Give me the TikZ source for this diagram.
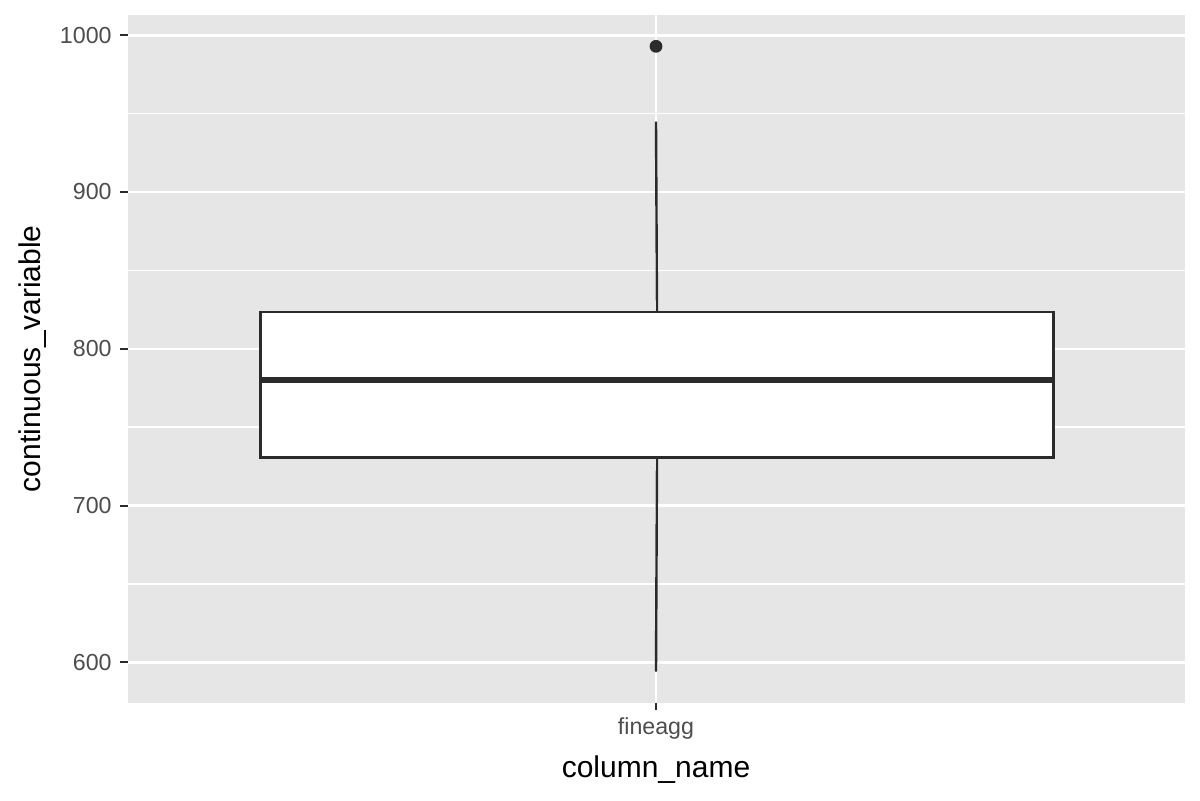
\documentclass[tikz,border=0pt]{standalone}
\usepackage{fontspec}
\setmainfont{Liberation Sans}
\definecolor{panelbg}{HTML}{E6E6E6}
\definecolor{gray20}{HTML}{2B2B2B}
\definecolor{gray30}{HTML}{4D4D4D}
\tikzset{
  major/.style={draw=white, line width=1.3pt},
  minor/.style={draw=white, line width=0.65pt},
  tickmark/.style={draw=gray20, line width=1pt},
  ticklabel/.style={text=gray30, font=\fontsize{11.6}{13}\selectfont, inner sep=0pt},
  axtitle/.style={text=black, font=\fontsize{15}{17}\selectfont, inner sep=0pt},
  boxline/.style={draw=gray20, line width=1.2pt},
}
\begin{document}
\begin{tikzpicture}[x=0.5pt, y=-0.5pt]
\useasboundingbox (0,0) rectangle (1200,800);
\fill[white] (0,0) rectangle (1200,800);
% panel
\fill[panelbg] (127.5,15) rectangle (1184.5,702.7);
% minor gridlines
\foreach \y in {113.6,270.4,427.1,583.9}
  \draw[minor] (127.5,\y) -- (1184.5,\y);
% major gridlines
\foreach \y in {35.3,192.0,348.8,505.5,662.3}
  \draw[major] (127.5,\y) -- (1184.5,\y);
\draw[major] (656,15) -- (656,702.7);
% y ticks and labels
\foreach \y/\lab in {35.3/1000,192.0/900,348.8/800,505.5/700,662.3/600}{
  \draw[tickmark] (120,\y) -- (127.5,\y);
  \node[ticklabel, anchor=east] at (112,\y) {\lab};
}
% x tick
\draw[tickmark] (656,702.7) -- (656,710);
\node[ticklabel, anchor=north] (xlab) at (656,717) {fineagg};
% whiskers
\coordinate (wtop) at (656,121.5);
\coordinate (wbot) at (656,671.5);
\node[boxline, fill=white, minimum width=396.5pt, minimum height=72.7pt, inner sep=0pt, anchor=north west] (box) at (259.3,311) {};
\draw[boxline] (wtop) -- (box.north);
\draw[boxline] (box.south) -- (wbot);
% median
\draw[draw=gray20, line width=2.6pt] (box.west |- 0,380) -- (box.east |- 0,380);
% outlier
\fill[gray20] (656,46.3) circle (3.2pt);
% axis titles
\node[axtitle, anchor=base] (xtitle) at (656,777) {column\_name};
\node[axtitle, anchor=base, rotate=90] (ytitle) at (40,358.8) {continuous\_variable};
\end{tikzpicture}
\end{document}
